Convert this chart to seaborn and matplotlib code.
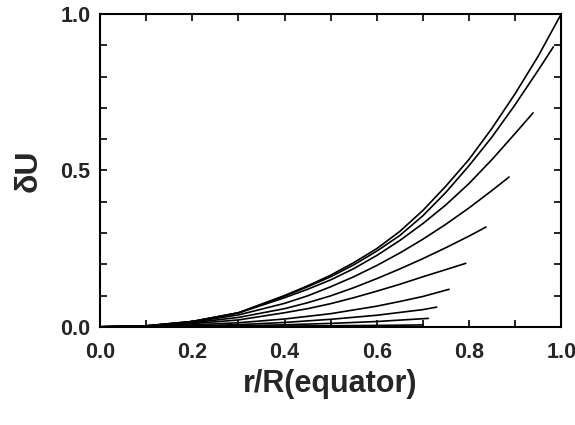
import matplotlib
matplotlib.use("Agg")
import matplotlib.pyplot as plt
import seaborn as sns
import numpy as np
import pandas as pd
from matplotlib.ticker import MultipleLocator

# values, one curve per run, from the outer to the inner one
x_1 = [0.0, 0.1, 0.2, 0.3, 0.4, 0.45, 0.5, 0.55, 0.6, 0.65, 0.7, 0.75, 0.8,
       0.85, 0.9, 0.95, 1.0]
y_1 = [0.0, 0.003, 0.017, 0.045, 0.100, 0.131, 0.165, 0.205, 0.250, 0.305,
       0.372, 0.450, 0.535, 0.635, 0.745, 0.865, 1.000]

x_2 = [0.0, 0.1, 0.2, 0.3, 0.4, 0.45, 0.5, 0.55, 0.6, 0.65, 0.7, 0.75, 0.8,
       0.85, 0.9, 0.95, 0.983]
y_2 = [0.0, 0.003, 0.017, 0.045, 0.098, 0.128, 0.160, 0.198, 0.242, 0.292,
       0.355, 0.430, 0.515, 0.607, 0.710, 0.820, 0.895]

x_3 = [0.0, 0.1, 0.2, 0.3, 0.4, 0.45, 0.5, 0.55, 0.6, 0.65, 0.7, 0.75, 0.8,
       0.85, 0.9, 0.939]
y_3 = [0.0, 0.003, 0.017, 0.044, 0.093, 0.120, 0.150, 0.186, 0.228, 0.276,
       0.330, 0.390, 0.458, 0.535, 0.618, 0.684]

x_4 = [0.0, 0.1, 0.2, 0.3, 0.4, 0.45, 0.5, 0.55, 0.6, 0.65, 0.7, 0.75, 0.8,
       0.85, 0.887]
y_4 = [0.0, 0.003, 0.015, 0.038, 0.075, 0.099, 0.128, 0.160, 0.196, 0.236,
       0.280, 0.328, 0.380, 0.436, 0.479]

x_5 = [0.0, 0.1, 0.2, 0.3, 0.4, 0.45, 0.5, 0.55, 0.6, 0.65, 0.7, 0.75, 0.8,
       0.837]
y_5 = [0.0, 0.003, 0.013, 0.030, 0.058, 0.077, 0.099, 0.125, 0.154, 0.185,
       0.218, 0.253, 0.290, 0.319]

x_6 = [0.0, 0.1, 0.2, 0.3, 0.4, 0.45, 0.5, 0.55, 0.6, 0.65, 0.7, 0.75, 0.793]
y_6 = [0.0, 0.002, 0.010, 0.022, 0.045, 0.058, 0.074, 0.093, 0.114, 0.136,
       0.160, 0.183, 0.203]

x_7 = [0.0, 0.1, 0.2, 0.3, 0.4, 0.5, 0.6, 0.65, 0.7, 0.757]
y_7 = [0.0, 0.0015, 0.006, 0.013, 0.025, 0.042, 0.066, 0.081, 0.097, 0.120]

x_8 = [0.0, 0.1, 0.2, 0.3, 0.4, 0.5, 0.6, 0.7, 0.730]
y_8 = [0.0, 0.001, 0.003, 0.007, 0.014, 0.024, 0.037, 0.055, 0.063]

x_9 = [0.0, 0.1, 0.2, 0.3, 0.4, 0.5, 0.6, 0.712]
y_9 = [0.0, 0.0005, 0.0015, 0.0035, 0.0065, 0.011, 0.017, 0.027]

x_10 = [0.0, 0.2, 0.4, 0.6, 0.70]
y_10 = [0.0, 0.001, 0.0025, 0.0045, 0.006]

curves = [(x_1, y_1), (x_2, y_2), (x_3, y_3), (x_4, y_4), (x_5, y_5),
          (x_6, y_6), (x_7, y_7), (x_8, y_8), (x_9, y_9), (x_10, y_10)]

frames = []
for i, (xs, ys) in enumerate(curves):
    frames.append(pd.DataFrame({"r": xs, "dU": ys, "curve": i}))
df = pd.concat(frames, ignore_index=True)

sns.set_theme(style="ticks")
plt.rcParams["font.family"] = ["Liberation Sans", "DejaVu Sans"]
plt.rcParams["font.weight"] = "bold"

fig = plt.figure(figsize=(5.75, 4.25), dpi=100)
ax = fig.add_axes([0.174, 0.231, 0.802, 0.736])

sns.lineplot(data=df, x="r", y="dU", hue="curve", units="curve", estimator=None,
             palette=["black"] * len(curves), legend=False, linewidth=1.2, ax=ax)

ax.set_xlim(0, 1)
ax.set_ylim(0, 1)
ax.xaxis.set_major_locator(MultipleLocator(0.2))
ax.xaxis.set_minor_locator(MultipleLocator(0.1))
ax.yaxis.set_major_locator(MultipleLocator(0.5))
ax.yaxis.set_minor_locator(MultipleLocator(0.1))
ax.xaxis.set_major_formatter(lambda v, p: f"{v:.1f}")
ax.yaxis.set_major_formatter(lambda v, p: f"{v:.1f}")

for s in ax.spines.values():
    s.set_visible(True)
    s.set_linewidth(1.5)
    s.set_color("black")
ax.tick_params(which="both", direction="in", top=True, right=True,
               length=5, width=1.2, color="black")
ax.tick_params(axis="x", which="major", pad=11, labelsize=15.5)
ax.tick_params(axis="y", which="major", pad=7, labelsize=15.5)

ax.set_xlabel("r/R(equator)", fontsize=22, fontweight="bold", labelpad=4)
ax.set_ylabel("δU", fontsize=23, fontweight="bold", labelpad=12)

fig.savefig("out.png", dpi=100)
